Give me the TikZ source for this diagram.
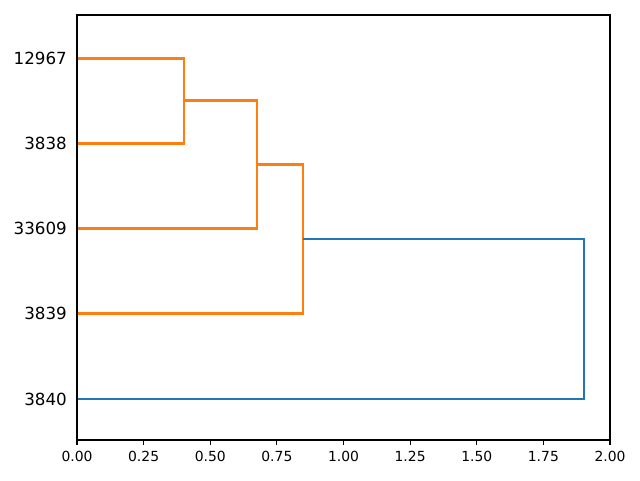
\documentclass[tikz,border=0pt]{standalone}
\usepackage{fontspec}
\setmainfont{DejaVu Sans}
\definecolor{mplorange}{HTML}{FF7F0E}
\definecolor{mplblue}{HTML}{1F77B4}
\begin{document}
\begin{tikzpicture}[x=1pt,y=-1pt,
  link/.style={line width=2.08pt},
  spine/.style={line width=1.1pt},
  xlab/.style={font=\fontsize{13.9}{16}\selectfont, anchor=north, inner sep=0pt},
  ylab/.style={font=\fontsize{16.7}{19}\selectfont, anchor=east, inner sep=0pt}]
\useasboundingbox (0,0) rectangle (640,480);
% leaves
\coordinate (l1) at (77,58.5);
\coordinate (l2) at (77,143.5);
\coordinate (l3) at (77,228.5);
\coordinate (l4) at (77,313.5);
\coordinate (l5) at (77,399);
% links
\draw[link,mplorange] (l1) -| (184,100.5) |- (l2);
\draw[link,mplorange] (184,100.5) -| (257,164.5) |- (l3);
\draw[link,mplorange] (257,164.5) -| (303,239) |- (l4);
\draw[link,mplblue] (303,239) -| (584,239) |- (l5);
% axes
\draw[spine] (77,15) rectangle (610,440);
\foreach \v/\t in {0/0.00,0.25/0.25,0.5/0.50,0.75/0.75,1/1.00,1.25/1.25,1.5/1.50,1.75/1.75,2/2.00}{
  \draw[spine] ({77+266.5*\v},440) -- ({77+266.5*\v},445);
  \node[xlab] (xt\t) at ({77+266.5*\v},451) {\t};
}
\node[ylab] (y1) at (67,58.5) {12967};
\node[ylab] (y2) at (67,143.5) {3838};
\node[ylab] (y3) at (67,228.5) {33609};
\node[ylab] (y4) at (67,313.5) {3839};
\node[ylab] (y5) at (67,399) {3840};
\end{tikzpicture}
\end{document}
